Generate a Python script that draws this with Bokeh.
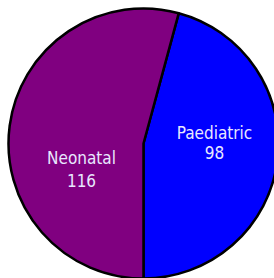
import math
from bokeh.plotting import figure
from bokeh.models import ColumnDataSource
from bokeh.core.properties import value
from bokeh.embed import file_html
from bokeh.resources import INLINE

categories = ["Paediatric", "Neonatal"]
counts = [98, 116]
colors = ["#0000FF", "#800080"]

W, H = 274, 278
cx, cy, r = 143, 135, 135

total = sum(counts)
starts, ends = [], []
a = -math.pi / 2
for c in counts:
    starts.append(a)
    a += 2 * math.pi * c / total
    ends.append(a)

src = ColumnDataSource(dict(cat=categories, val=counts, start=starts, end=ends, color=colors))

p = figure(width=W, height=H, x_range=(0, W), y_range=(0, H),
           output_backend="svg", toolbar_location=None, min_border=0)
p.axis.visible = False
p.grid.visible = False
p.outline_line_color = None
p.background_fill_color = "white"

p.wedge(x=cx, y=cy, radius=r, start_angle="start", end_angle="end",
        fill_color="color", line_color="black", line_width=2.5, source=src)

# label layout offsets (pixels from pie centre) for name / value lines
name_off = [(71, 11), (-62, -14)]
val_off = [(71, -9), (-62, -37)]
lx = [cx + o[0] for o in name_off] + [cx + o[0] for o in val_off]
ly = [cy + o[1] for o in name_off] + [cy + o[1] for o in val_off]
lt = categories + [str(v) for v in counts]
p.text(x=lx, y=ly, text=lt, text_align="center", text_baseline="alphabetic",
       text_font=value("DejaVu Sans Condensed"), text_font_size="17px",
       text_color="#e8e8ff")

open("out.html", "w").write(file_html(p, INLINE))
